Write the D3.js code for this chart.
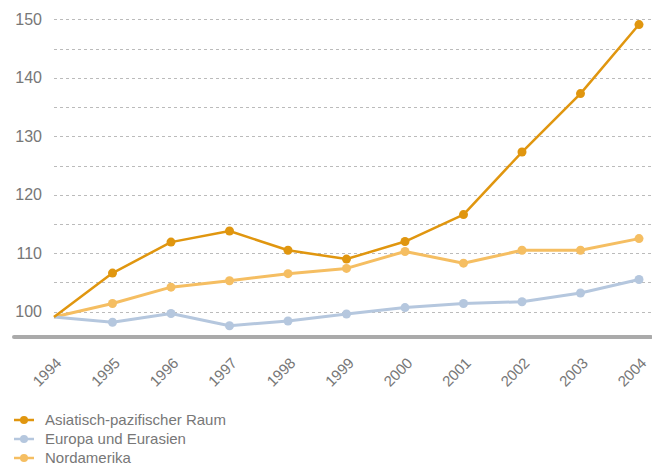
<!DOCTYPE html>
<html>
<head>
<meta charset="utf-8">
<script src="https://cdn.jsdelivr.net/npm/d3@7"></script>
<style>
  body { margin: 0; background: #fff; }
  svg { display: block; font-family: 'Liberation Sans', Arial, sans-serif; }
</style>
</head>
<body>
<div id="chart"></div>
<script>
const years = ['1994', '1995', '1996', '1997', '1998', '1999', '2000', '2001', '2002', '2003', '2004']
const asien = [99.1, 106.6, 111.9, 113.8, 110.5, 109.0, 112.0, 116.6, 127.3, 137.3, 149.1]
const europa = [99.1, 98.2, 99.7, 97.6, 98.4, 99.6, 100.7, 101.4, 101.7, 103.2, 105.5]
const nordamerika = [99.1, 101.4, 104.2, 105.3, 106.5, 107.4, 110.3, 108.3, 110.5, 110.5, 112.5]
const yTicks = [100, 110, 120, 130, 140, 150]
const gridValues = [100, 105, 110, 115, 120, 125, 130, 135, 140, 145, 150]

const series = [
  { name: 'Asiatisch-pazifischer Raum', values: asien, color: '#e0960f', width: 2.5 },
  { name: 'Europa und Eurasien', values: europa, color: '#b5c7de', width: 3 },
  { name: 'Nordamerika', values: nordamerika, color: '#f5be62', width: 3 }
]

const W = 652
const H = 466

const svg = d3.select('#chart').append('svg')
  .attr('width', W)
  .attr('height', H)

const x = d3.scalePoint().domain(years).range([54, 639])
const y = d3.scaleLinear().domain([100, 150]).range([311.7, 19.3])

// grid
svg.append('g').attr('class', 'grid')
  .selectAll('line')
  .data(gridValues)
  .enter()
  .append('line')
  .attr('x1', 54)
  .attr('x2', W)
  .attr('y1', d => Math.round(y(d)) + 0.5)
  .attr('y2', d => Math.round(y(d)) + 0.5)
  .attr('stroke', '#bbb')
  .attr('stroke-width', 1)
  .attr('stroke-dasharray', '3,3')

// y labels
const yAxis = svg.append('g')
  .attr('transform', 'translate(42,0)')
  .call(d3.axisLeft(y).tickValues(yTicks).tickSize(0).tickPadding(0))
yAxis.select('.domain').remove()
yAxis.selectAll('text')
  .attr('fill', '#777')
  .attr('font-size', 16)
  .attr('font-family', "'Liberation Sans', Arial, sans-serif")

// baseline
svg.append('line')
  .attr('x1', 14)
  .attr('x2', 651)
  .attr('y1', 337)
  .attr('y2', 337)
  .attr('stroke', '#aaa')
  .attr('stroke-width', 4)
  .attr('stroke-linecap', 'round')

// x labels
const xAxis = svg.append('g')
  .attr('transform', 'translate(0,337)')
  .call(d3.axisBottom(x).tickSize(0).tickPadding(0))
xAxis.select('.domain').remove()
xAxis.selectAll('text')
  .attr('fill', '#777')
  .attr('font-size', 15)
  .attr('font-family', "'Liberation Sans', Arial, sans-serif")
  .attr('text-anchor', 'end')
  .attr('dy', null)
  .attr('y', 0)
  .attr('transform', 'translate(8,27) rotate(-45)')

// lines
const line = d3.line()
  .x((d, i) => x(years[i]))
  .y(d => y(d))

const lines = svg.append('g').attr('class', 'lines')
series.slice().reverse().forEach(s => {
  const g = lines.append('g')
  g.append('path')
    .datum(s.values)
    .attr('fill', 'none')
    .attr('stroke', s.color)
    .attr('stroke-width', s.width)
    .attr('stroke-linejoin', 'round')
    .attr('d', line)
  g.selectAll('circle')
    .data(s.values.slice(1))
    .enter()
    .append('circle')
    .attr('cx', (d, i) => x(years[i + 1]))
    .attr('cy', d => y(d))
    .attr('r', 4.5)
    .attr('fill', s.color)
})

// legend
const legend = svg.append('g').attr('transform', 'translate(14,420)')
series.forEach((s, i) => {
  const row = legend.append('g').attr('transform', `translate(0,${i * 19})`)
  row.append('line')
    .attr('x1', 0)
    .attr('x2', 20)
    .attr('stroke', s.color)
    .attr('stroke-width', 2.5)
  row.append('circle')
    .attr('cx', 10)
    .attr('r', 4)
    .attr('fill', s.color)
  row.append('text')
    .attr('x', 31)
    .attr('dy', '0.35em')
    .attr('fill', '#777')
    .attr('font-size', 15)
    .text(s.name)
})
</script>
</body>
</html>
